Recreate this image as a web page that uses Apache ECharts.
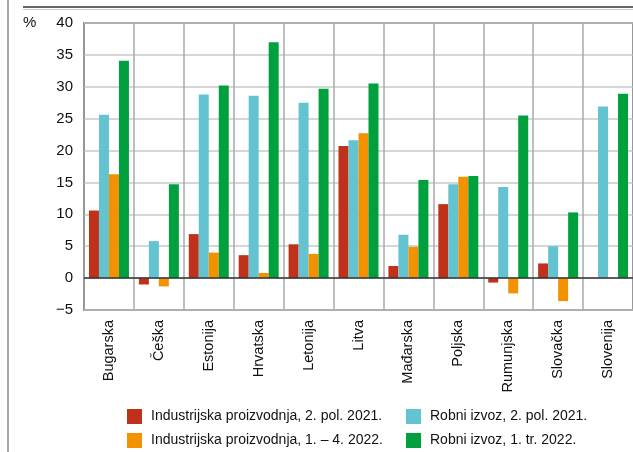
<!DOCTYPE html>
<html>
<head>
<meta charset="utf-8">
<title>Industrijska proizvodnja i robni izvoz</title>
<style>
  html, body { margin: 0; padding: 0; background: #fff; }
  #chart { width: 633px; height: 452px; }
</style>
</head>
<body>
<div id="chart"></div>
<script src="https://cdn.jsdelivr.net/npm/echarts@6/dist/echarts.min.js"></script>
<script>
var countries = ['Bugarska', 'Češka', 'Estonija', 'Hrvatska', 'Letonija', 'Litva',
                 'Mađarska', 'Poljska', 'Rumunjska', 'Slovačka', 'Slovenija'];
var indH2_2021 = [10.6, -1.0, 6.9, 3.6, 5.3, 20.7, 1.9, 11.6, -0.7, 2.3, null];
var izvozH2_2021 = [25.6, 5.8, 28.8, 28.6, 27.5, 21.6, 6.8, 14.7, 14.3, 5.0, 26.9];
var ind2022 = [16.3, -1.3, 4.0, 0.8, 3.8, 22.7, 4.9, 15.9, -2.4, -3.6, null];
var izvozQ1_2022 = [34.1, 14.7, 30.2, 37.0, 29.7, 30.5, 15.4, 16.0, 25.5, 10.3, 28.9];

var names = ['Industrijska proizvodnja, 2. pol. 2021.', 'Robni izvoz, 2. pol. 2021.',
             'Industrijska proizvodnja, 1. – 4. 2022.', 'Robni izvoz, 1. tr. 2022.'];
var colors = ['#c0311a', '#63c3d1', '#f39200', '#00a03e'];
var font = '"Liberation Sans", Arial, sans-serif';

var chart = echarts.init(document.getElementById('chart'));

function bar(i, data) {
  return {
    name: names[i],
    type: 'bar',
    data: data,
    barWidth: 10,
    barGap: '0%',
    itemStyle: { color: colors[i] },
    emphasis: { disabled: true }
  };
}

var series = [bar(0, indH2_2021), bar(1, izvozH2_2021), bar(2, ind2022), bar(3, izvozQ1_2022)];
// zero line
series[0].markLine = {
  silent: true,
  symbol: 'none',
  label: { show: false },
  lineStyle: { color: '#333', type: 'solid', width: 1.5 },
  data: [{ yAxis: 0 }]
};

// one legend per item, so the two columns line up
var legendPos = [[127, 409], [406, 409], [127, 433], [406, 433]];
var legends = names.map(function (n, i) {
  return {
    data: [n],
    left: legendPos[i][0], top: legendPos[i][1],
    padding: 0,
    itemWidth: 15, itemHeight: 15,
    icon: 'rect',
    textStyle: { fontFamily: font, fontSize: 14, color: '#111', padding: [2, 0, 0, 4] }
  };
});

var option = {
  animation: false,
  color: colors,
  textStyle: { fontFamily: font },
  grid: {
    left: 84, right: -3, top: 23, bottom: 142,
    show: true, borderColor: '#333', borderWidth: 1.5
  },
  legend: legends,
  xAxis: {
    type: 'category',
    data: countries,
    axisLine: { show: false, onZero: false },
    axisTick: { show: false },
    splitLine: { show: true, interval: 0, lineStyle: { color: '#aaa', width: 1.5 } },
    axisLabel: {
      interval: 0, rotate: 90, margin: 10,
      fontFamily: font, fontSize: 14.5, color: '#111'
    }
  },
  yAxis: {
    type: 'value',
    min: -5, max: 40, interval: 5,
    axisLine: { show: false },
    axisTick: { show: false },
    splitLine: { lineStyle: { color: '#c8c8c8', width: 1.5 } },
    axisLabel: {
      margin: 11,
      fontFamily: font, fontSize: 15, color: '#111',
      formatter: function (v) { return v < 0 ? '\u2212' + Math.abs(v) : String(v); }
    }
  },
  graphic: [
    { type: 'line', shape: { x1: 8, y1: 0, x2: 8, y2: 452 }, style: { stroke: '#555', lineWidth: 1 } },
    { type: 'line', shape: { x1: 23, y1: 7, x2: 633, y2: 7 }, style: { stroke: '#333', lineWidth: 1.5 } },
    { type: 'line', shape: { x1: 23, y1: 9.5, x2: 633, y2: 9.5 }, style: { stroke: '#ccc', lineWidth: 1 } },
    { type: 'text', left: 23, top: 15, style: { text: '%', font: '15px ' + font, fill: '#111' } }
  ],
  series: series
};

chart.setOption(option);
</script>
</body>
</html>
